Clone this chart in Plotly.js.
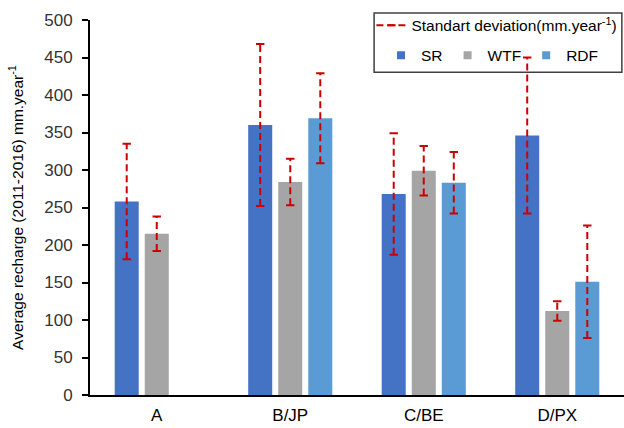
<!DOCTYPE html>
<html><head><meta charset="utf-8">
<script src="https://cdn.plot.ly/plotly-3.0.1.min.js"></script>
<style>html,body{margin:0;padding:0;background:#fff}</style>
</head><body>
<div id="chart" style="width:624px;height:428px"></div>
<script>
const categories = ["A", "B/JP", "C/BE", "D/PX"];
const seriesNames = ["SR", "WTF", "RDF"];
const srMean  = [258, 360, 268, 346];
const wtfMean = [215, 284, 299, 112];
const rdfMean = [null, 369, 283, 151];
const srSD  = [77, 108, 81, 104];
const wtfSD = [23, 31, 33, 13];
const rdfSD = [null, 60, 41, 75];
const colors = ["#4472C4", "#A5A5A5", "#5B9BD5"];
const sdColor = "#CC0000";

const means = [srMean, wtfMean, rdfMean];
const sds = [srSD, wtfSD, rdfSD];
const font = "Liberation Sans, Arial, sans-serif";

const traces = [];
means.forEach((m, s) => {
  traces.push({
    type: "bar", x: categories, y: m, name: seriesNames[s],
    marker: {color: colors[s]}, showlegend: false, offsetgroup: String(s)
  });
});
means.forEach((m, s) => {
  const xs = [], ys = [];
  categories.forEach((c, i) => {
    if (m[i] == null) return;
    xs.push(c, c, null);
    ys.push(m[i] - sds[s][i], m[i] + sds[s][i], null);
  });
  traces.push({
    type: "scatter", mode: "lines+markers", x: xs, y: ys,
    name: "Standart deviation(mm.year<sup>-1</sup>)",
    showlegend: s === 0, legend: "legend", offsetgroup: String(s),
    line: {color: sdColor, width: 2, dash: "7px,4px"},
    marker: {symbol: "line-ew", size: 6, line: {color: sdColor, width: 2}, color: sdColor}
  });
});
// legend entries for the bar series (square swatches)
seriesNames.forEach((n, s) => {
  traces.push({
    type: "scatter", mode: "markers", x: [null], y: [null], name: n,
    legend: "legend2", hoverinfo: "skip",
    marker: {symbol: "square", size: 8, color: colors[s]}
  });
});

const layout = {
  width: 624, height: 428,
  margin: {l: 90, r: 0, t: 20, b: 33, autoexpand: false},
  paper_bgcolor: "#fff", plot_bgcolor: "#fff",
  font: {family: font, size: 15, color: "#404040"},
  barmode: "group", bargap: 0.325, bargroupgap: 0.2,
  scattermode: "group", scattergap: 0.325,
  xaxis: {
    type: "category", showline: true, linecolor: "#000", linewidth: 2,
    ticks: "", showgrid: false, zeroline: false,
    tickfont: {size: 17, color: "#000"}, ticklabelstandoff: 4
  },
  yaxis: {
    range: [0, 500], dtick: 50, showline: true, linecolor: "#000", linewidth: 2,
    ticks: "outside", ticklen: 6, tickwidth: 2, tickcolor: "#000",
    showgrid: false, zeroline: false, ticklabelstandoff: 6,
    tickfont: {size: 17, color: "#333"},
    title: {text: "Average recharge (2011-2016) mm.year<sup>-1</sup>", font: {size: 15.5, color: "#000"}, standoff: 17}
  },
  legend: {
    x: 0.997, y: 1.03, xanchor: "right", yanchor: "top",
    bgcolor: "rgba(0,0,0,0)", font: {size: 15.5, color: "#000"}, itemwidth: 30
  },
  legend2: {
    orientation: "h", x: 0.545, y: 0.95, xanchor: "left", yanchor: "top",
    bgcolor: "rgba(0,0,0,0)", font: {size: 15.5, color: "#000"},
    itemsizing: "trace"
  },
  shapes: [{
    type: "rect", xref: "paper", yref: "paper",
    x0: 0.532, x1: 0.996, y0: 0.861, y1: 1.0187,
    line: {color: "#404040", width: 1.5}
  }],
  showlegend: true
};

Plotly.newPlot("chart", traces, layout, {displayModeBar: false, staticPlot: true});
</script>
</body></html>
